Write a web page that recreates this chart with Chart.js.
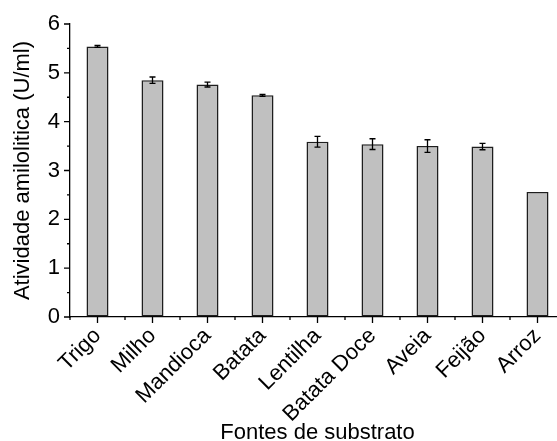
<!DOCTYPE html>
<html>
<head>
<meta charset="utf-8">
<script src="https://cdn.jsdelivr.net/npm/chart.js@4"></script>
<style>
  html, body { margin: 0; padding: 0; background: #fff; overflow: hidden; }
  #wrap { width: 572px; height: 441px; overflow: hidden; }
</style>
</head>
<body>
<div id="wrap"><canvas id="amyChart" width="572" height="446"></canvas></div>
<script>
const categories = ['Trigo', 'Milho', 'Mandioca', 'Batata', 'Lentilha', 'Batata Doce', 'Aveia', 'Feijão', 'Arroz'];
const activity = [5.54, 4.85, 4.76, 4.54, 3.59, 3.54, 3.50, 3.49, 2.56];
const activityErr = [0.02, 0.065, 0.05, 0.02, 0.11, 0.11, 0.13, 0.065, 0];
const yTicks = [0, 1, 2, 3, 4, 5, 6];

const FONT = '"Liberation Sans", Arial, sans-serif';

// error bars drawn through the y scale
const errorBars = {
  id: 'errorBars',
  afterDatasetsDraw(chart) {
    const { ctx, scales: { x, y } } = chart;
    ctx.save();
    ctx.strokeStyle = '#000';
    ctx.lineWidth = 1.3;
    activity.forEach((v, i) => {
      const e = activityErr[i];
      if (!e) return;
      const px = x.getPixelForValue(i);
      const top = y.getPixelForValue(v + e);
      const bot = y.getPixelForValue(v - e);
      ctx.beginPath();
      ctx.moveTo(px, top); ctx.lineTo(px, bot);
      ctx.moveTo(px - 3, top); ctx.lineTo(px + 3, top);
      ctx.moveTo(px - 3, bot); ctx.lineTo(px + 3, bot);
      ctx.stroke();
    });
    ctx.restore();
  }
};

// major + minor tick marks, outward
const tickMarks = {
  id: 'tickMarks',
  afterDraw(chart) {
    const { ctx, chartArea, scales: { x, y } } = chart;
    const step = x.getPixelForValue(1) - x.getPixelForValue(0);
    ctx.save();
    ctx.strokeStyle = '#000';
    ctx.lineWidth = 1.3;
    ctx.beginPath();
    for (let i = 0; i < categories.length; i++) {
      const c = x.getPixelForValue(i);
      ctx.moveTo(c, chartArea.bottom); ctx.lineTo(c, chartArea.bottom + 6);
      ctx.moveTo(c - step / 2, chartArea.bottom); ctx.lineTo(c - step / 2, chartArea.bottom + 3);
      ctx.moveTo(c + step / 2, chartArea.bottom); ctx.lineTo(c + step / 2, chartArea.bottom + 3);
    }
    for (let t = 0; t <= 6; t += 0.5) {
      const py = y.getPixelForValue(t);
      const len = Number.isInteger(t) ? 6 : 3;
      ctx.moveTo(chartArea.left, py); ctx.lineTo(chartArea.left - len, py);
    }
    ctx.stroke();
    ctx.restore();
  }
};

new Chart(document.getElementById('amyChart'), {
  type: 'bar',
  data: {
    labels: categories,
    datasets: [{
      data: activity,
      backgroundColor: '#c0c0c0',
      borderColor: '#1e1e1e',
      borderWidth: 1.5,
      borderSkipped: false,
      barPercentage: 0.4,
      categoryPercentage: 1
    }]
  },
  options: {
    responsive: false,
    animation: false,
    events: [],
    layout: { padding: { top: 24, right: 7, left: 0, bottom: 0 } },
    plugins: { legend: { display: false }, tooltip: { enabled: false } },
    scales: {
      x: {
        grid: { display: true, drawOnChartArea: false, drawTicks: false },
        border: { display: true, color: '#000', width: 1.3 },
        ticks: {
          color: '#000', font: { family: FONT, size: 22 },
          minRotation: 45, maxRotation: 45, padding: 6
        },
        title: {
          display: true, text: 'Fontes de substrato', color: '#000',
          font: { family: FONT, size: 22 }, padding: { top: 0, bottom: 0 }
        },
        afterFit(scale) { scale.height = 129; }
      },
      y: {
        min: 0, max: 6,
        afterBuildTicks(scale) { scale.ticks = yTicks.map(v => ({ value: v })); },
        grid: { display: true, drawOnChartArea: false, drawTicks: false },
        border: { display: true, color: '#000', width: 1.3 },
        ticks: { color: '#000', font: { family: FONT, size: 22 }, padding: 10 },
        title: {
          display: true, text: 'Atividade amilolitica (U/ml)', color: '#000',
          font: { family: FONT, size: 22 }, padding: { top: 10, bottom: 0 }
        },
        afterFit(scale) { scale.width = 70; }
      }
    }
  },
  plugins: [errorBars, tickMarks]
});
</script>
</body>
</html>
